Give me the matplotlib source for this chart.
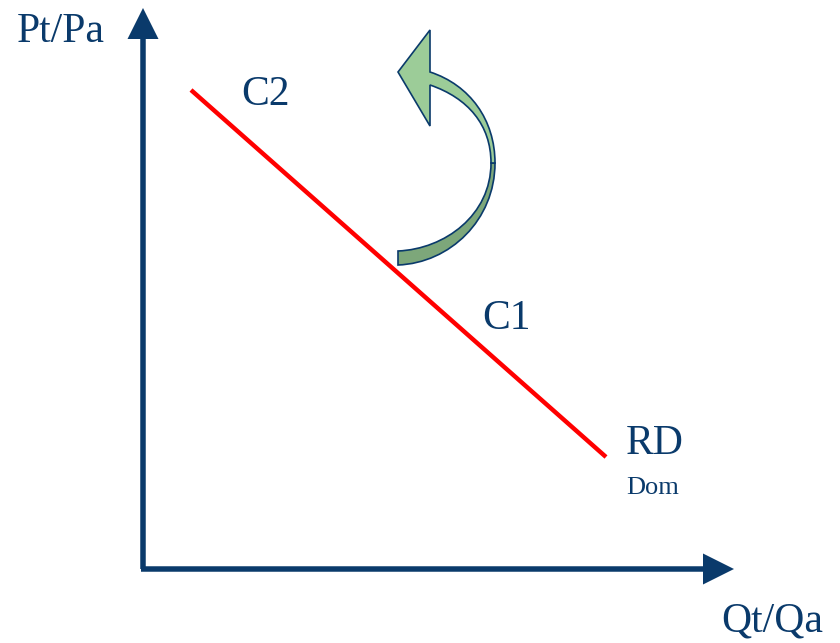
import matplotlib.pyplot as plt
from matplotlib.path import Path
from matplotlib.patches import PathPatch, FancyArrow

plt.rcParams['font.family'] = ['Liberation Serif', 'DejaVu Serif']

navy = "#0A3A6B"

# demand curve RD, pixel coordinates of the sketch
curve_x = [191, 606]
curve_y = [90, 457]

labels = ["Pt/Pa", "C2", "C1", "RD", "Dom", "Qt/Qa"]
label_x = [17, 241, 482, 626, 626, 721]
label_y = [32, 95, 319, 444, 488, 621]
label_size = [30, 30, 30, 30, 19, 30]

fig = plt.figure(figsize=(8.4, 6.43), dpi=100)
ax = fig.add_axes([0, 0, 1, 1])
ax.set_xlim(0, 840)
ax.set_ylim(643, 0)
ax.axis("off")

# axes with arrowheads
ax.add_patch(FancyArrow(143, 569, 0, -531 - 30, width=5.5, head_width=31, head_length=31,
                        length_includes_head=True, color=navy, lw=0))
ax.add_patch(FancyArrow(141, 569, 734 - 141, 0, width=5.5, head_width=31, head_length=31,
                        length_includes_head=True, color=navy, lw=0))

ax.plot(curve_x, curve_y, color="red", lw=3.2, solid_capstyle="butt")

# curved arrow: upper (lighter) part with head
M, L, C, Z = Path.MOVETO, Path.LINETO, Path.CURVE4, Path.CLOSEPOLY
upper = [
    ((495, 163), M),
    ((495, 120), C), ((470, 85), C), ((430, 72), C),
    ((430, 30), L), ((398, 72), L), ((430, 126), L), ((430, 85), L),
    ((468, 98), C), ((491, 125), C), ((491, 163), C),
    ((495, 163), Z),
]
lower = [
    ((495, 163), M),
    ((495, 220), C), ((450, 263), C), ((398, 265), C),
    ((398, 251), L),
    ((445, 249), C), ((491, 215), C), ((491, 163), C),
    ((495, 163), Z),
]
for pts, fc in [(lower, "#7DA77A"), (upper, "#9CCC98")]:
    verts = [p for p, _ in pts]
    codes = [c for _, c in pts]
    ax.add_patch(PathPatch(Path(verts, codes), facecolor=fc, edgecolor=navy, lw=1.2))

for t, x, y, s in zip(labels, label_x, label_y, label_size):
    ax.text(x, y, t, fontsize=s, color=navy, ha="left", va="center")

plt.savefig("out.png", dpi=100)
